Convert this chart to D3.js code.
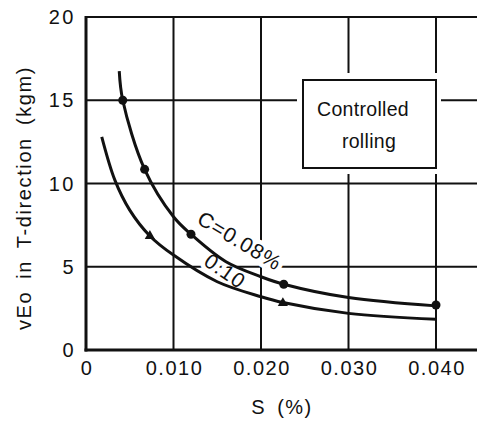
<!DOCTYPE html>
<html>
<head>
<meta charset="utf-8">
<script src="https://cdn.jsdelivr.net/npm/d3@7"></script>
<style>
  html, body { margin: 0; padding: 0; background: #fff; }
  svg { display: block; }
  text { font-family: "Liberation Sans", Arial, sans-serif; fill: #111; }
</style>
</head>
<body>
<svg id="chart" width="477" height="421"></svg>
<script>
// Impact energy vs S content, controlled rolling
const xTicks = [0, 0.010, 0.020, 0.030, 0.040];
const xTickLabels = ["0", "0.010", "0.020", "0.030", "0.040"];
const yTicks = [0, 5, 10, 15, 20];
const yTickLabels = ["0", "5", "10", "15", "20"];

// Measured points
const pointsC008 = [[0.0042, 15.0], [0.0067, 10.85], [0.0120, 6.95], [0.0226, 3.95], [0.0400, 2.7]];
const pointsC010 = [[0.0073, 6.85], [0.0225, 2.82]];

// Fitted trend curves
const curveC008 = [[0.0038, 16.75], [0.0042, 15.0], [0.0067, 10.85], [0.0100, 8.0], [0.0120, 6.95],
                   [0.0160, 5.3], [0.0200, 4.4], [0.0226, 3.95], [0.0300, 3.15], [0.0400, 2.65]];
const curveC010 = [[0.0018, 12.8], [0.0033, 10.2], [0.0050, 8.4], [0.0073, 6.85], [0.0100, 5.7],
                   [0.0150, 4.1], [0.0200, 3.2], [0.0225, 2.85], [0.0300, 2.2], [0.0400, 1.85]];

const svg = d3.select("#chart");
const W = 477;
const x = d3.scaleLinear().domain([0, 0.04]).range([86, 436]);
const y = d3.scaleLinear().domain([0, 20]).range([350, 17]);

// grid
const grid = svg.append("g").attr("stroke", "#111").attr("stroke-width", 2);
xTicks.slice(1).forEach(t => {
  grid.append("line").attr("x1", x(t)).attr("x2", x(t)).attr("y1", y(20)).attr("y2", y(0));
});
yTicks.slice(1).forEach(t => {
  grid.append("line").attr("x1", x(0)).attr("x2", W).attr("y1", y(t)).attr("y2", y(t));
});

// axes (left and bottom heavier)
svg.append("line").attr("x1", x(0)).attr("x2", x(0)).attr("y1", y(20) - 1).attr("y2", y(0) + 1.5)
  .attr("stroke", "#111").attr("stroke-width", 3);
svg.append("line").attr("x1", x(0) - 1.5).attr("x2", W).attr("y1", y(0)).attr("y2", y(0))
  .attr("stroke", "#111").attr("stroke-width", 3);

// legend box
const box = svg.append("g");
box.append("rect").attr("x", 297).attr("y", 73).attr("width", 144).attr("height", 101).attr("fill", "#fff");
box.append("rect").attr("x", 303).attr("y", 80).attr("width", x(0.04) - 303).attr("height", 88)
  .attr("fill", "#fff").attr("stroke", "#111").attr("stroke-width", 2);
box.append("text").attr("x", 363).attr("y", 116).attr("text-anchor", "middle")
  .attr("font-size", 19.5).attr("letter-spacing", 0.3).text("Controlled");
box.append("text").attr("x", 369).attr("y", 148).attr("text-anchor", "middle")
  .attr("font-size", 19.5).attr("letter-spacing", 0.3).text("rolling");

// curve labels with white halo
function curveLabel(txt, cx, cy, ang) {
  svg.append("text")
    .attr("transform", `translate(${cx},${cy}) rotate(${ang})`)
    .attr("text-anchor", "middle")
    .attr("font-size", 21)
    .attr("letter-spacing", 1)
    .attr("stroke", "#fff").attr("stroke-width", 9).attr("stroke-linejoin", "round")
    .attr("paint-order", "stroke")
    .text(txt);
}
curveLabel("C=0.08%", 236, 247, 31);
curveLabel("0.10", 221, 277, 35);

// curves
const line = d3.line().x(d => x(d[0])).y(d => y(d[1])).curve(d3.curveCatmullRom.alpha(0.5));
svg.append("path").datum(curveC008).attr("d", line)
  .attr("fill", "none").attr("stroke", "#111").attr("stroke-width", 3);
svg.append("path").datum(curveC010).attr("d", line)
  .attr("fill", "none").attr("stroke", "#111").attr("stroke-width", 3);

// markers
svg.append("g").selectAll("circle").data(pointsC008).join("circle")
  .attr("cx", d => x(d[0])).attr("cy", d => y(d[1])).attr("r", 4.5).attr("fill", "#111");
const tri = d3.symbol().type(d3.symbolTriangle).size(45);
svg.append("g").selectAll("path").data(pointsC010).join("path")
  .attr("d", tri).attr("transform", d => `translate(${x(d[0])},${y(d[1])})`).attr("fill", "#111");

// tick labels
svg.append("g").selectAll("text").data(xTicks).join("text")
  .attr("x", d => x(d) + 1).attr("y", 375).attr("text-anchor", "middle")
  .attr("font-size", 20).attr("letter-spacing", 1.5)
  .text((d, i) => xTickLabels[i]);
svg.append("g").selectAll("text").data(yTicks).join("text")
  .attr("x", 76).attr("y", d => y(d) + 7).attr("text-anchor", "end")
  .attr("font-size", 20).attr("letter-spacing", 2.5)
  .text((d, i) => yTickLabels[i]);

// axis titles
svg.append("text").attr("x", 282).attr("y", 414).attr("text-anchor", "middle")
  .attr("font-size", 20).attr("letter-spacing", 1.5).attr("word-spacing", 4)
  .text("S (%)");
svg.append("text").attr("transform", "translate(31,198) rotate(-90)")
  .attr("text-anchor", "middle").attr("font-size", 20)
  .attr("letter-spacing", 1.6).attr("word-spacing", 5)
  .text("vEo in T-direction (kgm)");
</script>
</body>
</html>
